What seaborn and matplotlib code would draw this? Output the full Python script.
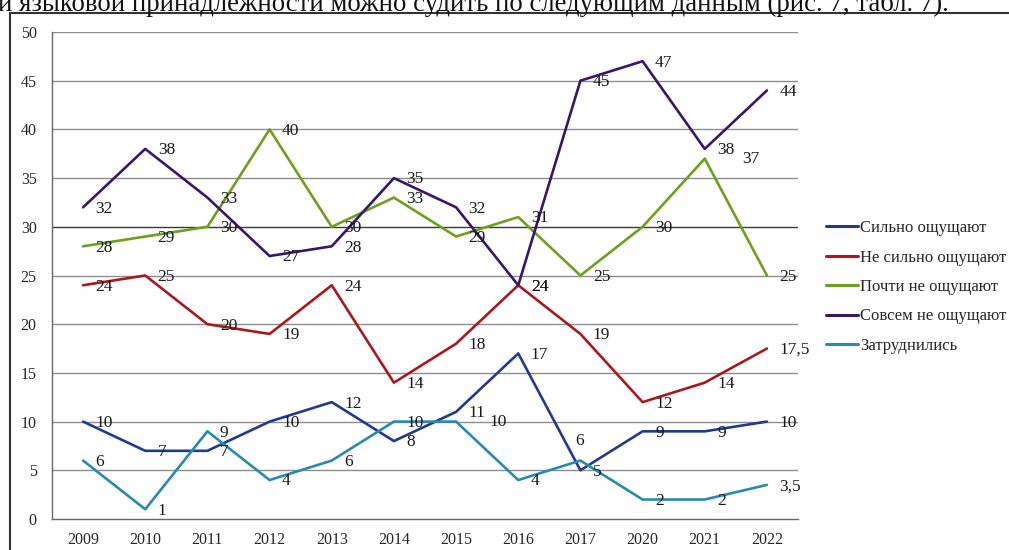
"""Line chart: how strongly respondents feel (by year), with data labels."""

import matplotlib

matplotlib.use("Agg")
import matplotlib.pyplot as plt
import pandas as pd
import seaborn as sns
from matplotlib.lines import Line2D

YEARS = ["2009", "2010", "2011", "2012", "2013", "2014", "2015", "2016", "2017", "2020", "2021", "2022"]
SERIES_NAMES = [
    "Сильно ощущают",
    "Не сильно ощущают",
    "Почти не ощущают",
    "Совсем не ощущают",
    "Затруднились",
]
strong = [10, 7, 7, 10, 12, 8, 11, 17, 5, 9, 9, 10]
not_strong = [24, 25, 20, 19, 24, 14, 18, 24, 19, 12, 14, 17.5]
almost_not = [28, 29, 30, 40, 30, 33, 29, 31, 25, 30, 37, 25]
not_at_all = [32, 38, 33, 27, 28, 35, 32, 24, 45, 47, 38, 44]
undecided = [6, 1, 9, 4, 6, 10, 10, 4, 6, 2, 2, 3.5]
COLORS = ["#22398f", "#a8191f", "#6f9f1f", "#36186a", "#2a8aab"]

sns.set_style("white")
plt.rcParams["font.family"] = ["Liberation Serif", "DejaVu Serif"]

rows = []
for name, values in zip(SERIES_NAMES, [strong, not_strong, almost_not, not_at_all, undecided]):
    for i, v in enumerate(values):
        rows.append({"pos": i, "year": YEARS[i], "value": v, "series": name})
df = pd.DataFrame(rows)

W, H = 1009, 550
fig = plt.figure(figsize=(W / 100, H / 100), dpi=100)
ax = fig.add_axes([52 / W, 1 - 519 / H, (798 - 52) / W, (519 - 32) / H])

for y in range(5, 55, 5):
    ax.axhline(y, color="#3a3a3a" if y == 30 else "#8e8e8e", lw=1.0, zorder=0)

sns.lineplot(data=df, x="pos", y="value", hue="series", hue_order=SERIES_NAMES,
             palette=COLORS, linewidth=1.9, legend=False, ax=ax, zorder=3)

# data labels, mostly to the right of the point
special = {
    ("Затруднились", 8): (-4, 14),
    ("Затруднились", 6): (24, 0),
    ("Почти не ощущают", 10): (27, 0),
}
for _, r in df.iterrows():
    label = f"{r['value']:g}".replace(".", ",")
    dx, dy = special.get((r["series"], r["pos"]), (9, -1))
    ax.annotate(label, (r["pos"], r["value"]), xytext=(dx, dy), textcoords="offset points",
                ha="left", va="center", fontsize=12.5, color="#1a1a1a", zorder=5)

ax.set_xlim(-0.5, len(YEARS) - 0.5)
ax.set_ylim(0, 50)
ax.set_yticks(range(0, 55, 5))
ax.set_xticks(range(len(YEARS)))
ax.set_xticklabels(YEARS)
ax.set_xticks([i - 0.5 for i in range(len(YEARS) + 1)], minor=True)
ax.tick_params(axis="x", which="major", length=0, pad=9, labelsize=11.5)
ax.tick_params(axis="x", which="minor", length=6, width=1, color="#555555", direction="out")
ax.tick_params(axis="y", length=5, width=1, color="#555555", direction="out", labelsize=11.5, pad=6)
ax.set_xlabel("")
ax.set_ylabel("")
for side in ["top", "right"]:
    ax.spines[side].set_visible(False)
for side in ["left", "bottom"]:
    ax.spines[side].set_color("#666666")
    ax.spines[side].set_linewidth(1.0)

handles = [Line2D([], [], color=c, lw=2.2) for c in COLORS]
fig.legend(handles, SERIES_NAMES, loc="center left", bbox_to_anchor=(826 / W, 1 - 287 / H),
           frameon=False, fontsize=12, handlelength=1.9, handletextpad=0.12,
           labelspacing=0.81, borderpad=0, borderaxespad=0)

# frame of the figure box and the cropped line of text above it
fig.add_artist(Line2D([10 / W, 1], [1 - 13 / H, 1 - 13 / H], color="#333333", lw=1.5))
fig.add_artist(Line2D([10 / W, 10 / W], [0, 1 - 13 / H], color="#333333", lw=1.5))
fig.text(-2 / W, 1 - 11 / H, "и языковой принадлежности можно судить по следующим данным (рис. 7, табл. 7).",
         ha="left", va="baseline", fontsize=19.3, color="#111111")

fig.savefig("out.png", dpi=100)
